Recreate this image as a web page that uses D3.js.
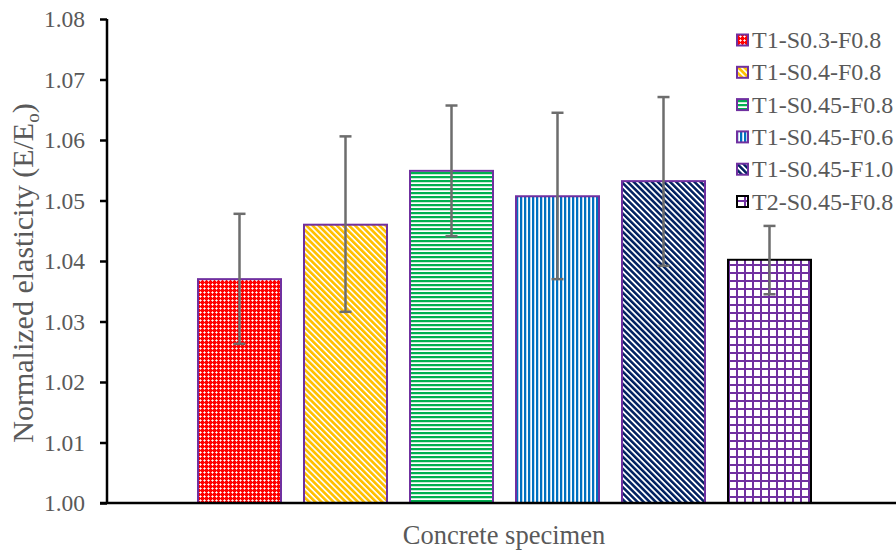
<!DOCTYPE html>
<html><head><meta charset="utf-8">
<script src="https://cdn.jsdelivr.net/npm/d3@7"></script>
<style>body{margin:0;background:#fff}svg{display:block}text{font-family:"Liberation Serif","Times New Roman",serif}</style>
</head><body><svg id="c" width="896" height="552"></svg>
<script>
const series = ["T1-S0.3-F0.8","T1-S0.4-F0.8","T1-S0.45-F0.8","T1-S0.45-F0.6","T1-S0.45-F1.0","T2-S0.45-F0.8"];
const values = [1.0370, 1.0460, 1.0549, 1.0507, 1.0532, 1.0402];
const errHigh = [1.0478, 1.0606, 1.0657, 1.0645, 1.0671, 1.0458];
const errLow  = [1.0263, 1.0316, 1.0441, 1.0370, 1.0392, 1.0345];
const yTicks = [1.00,1.01,1.02,1.03,1.04,1.05,1.06,1.07,1.08];
const patternIds = ["pRed","pYel","pGrn","pBlu","pNav","pGrid"];
const borders = ["#7030a0","#7030a0","#7030a0","#7030a0","#7030a0","#000000"];

const svg = d3.select("#c");
const defs = svg.append("defs");
function pat(id, w, h, transform){
  const p = defs.append("pattern").attr("id",id).attr("patternUnits","userSpaceOnUse").attr("width",w).attr("height",h);
  if(transform) p.attr("patternTransform",transform);
  p.append("rect").attr("width",w).attr("height",h).attr("fill","#fff");
  return p;
}
// red with white crosses
let p = pat("pRed",4,4);
p.select("rect").attr("fill","#ff0000");
p.append("rect").attr("x",0).attr("y",0).attr("width",1).attr("height",1).attr("fill","#ffffff");
p.append("rect").attr("x",1).attr("y",0).attr("width",1).attr("height",1).attr("fill","#ffb0b0");
p.append("rect").attr("x",3).attr("y",0).attr("width",1).attr("height",1).attr("fill","#ffb0b0");
p.append("rect").attr("x",0).attr("y",1).attr("width",1).attr("height",1).attr("fill","#ffb0b0");
p.append("rect").attr("x",0).attr("y",3).attr("width",1).attr("height",1).attr("fill","#ffb0b0");
// yellow diagonal
p = pat("pYel",4.3,10,"rotate(-45)");
p.append("rect").attr("width",2.7).attr("height",10).attr("fill","#ffc000");
// green horizontal
p = pat("pGrn",10,4);
p.append("rect").attr("y",0).attr("width",10).attr("height",2).attr("fill","#00b050");
p.append("rect").attr("y",2).attr("width",10).attr("height",0.6).attr("fill","#9fdcb8");
// blue vertical
p = pat("pBlu",4,10);
p.append("rect").attr("x",0).attr("width",2).attr("height",10).attr("fill","#0070c0");
p.append("rect").attr("x",2).attr("width",0.6).attr("height",10).attr("fill","#8ec0e6");
// navy diagonal
p = pat("pNav",4.3,10,"rotate(-45)");
p.append("rect").attr("width",2.5).attr("height",10).attr("fill","#002060");
// purple grid
p = pat("pGrid",8,8);
p.append("rect").attr("x",0).attr("y",0).attr("width",8).attr("height",2).attr("fill","#7030a0");
p.append("rect").attr("x",0).attr("y",0).attr("width",2).attr("height",8).attr("fill","#7030a0");

const y = d3.scaleLinear().domain([1.00,1.08]).range([503,19]);
const x = d3.scaleBand().domain(series).range([186.5,822.5]).paddingInner(0.217).paddingOuter(0.1085);

// bars
svg.selectAll("rect.bar").data(series).enter().append("rect").attr("class","bar")
  .attr("x",d=>x(d)).attr("width",x.bandwidth())
  .attr("y",(d,i)=>y(values[i])).attr("height",(d,i)=>y(1.0)-y(values[i]))
  .attr("fill",(d,i)=>`url(#${patternIds[i]})`)
  .attr("stroke",(d,i)=>borders[i]).attr("stroke-width",2);

// error bars
const eg = svg.append("g").attr("stroke","#6d6d6d").attr("stroke-width",2.5).attr("fill","none");
series.forEach((s,i)=>{
  const cx = x(s)+x.bandwidth()/2;
  eg.append("line").attr("x1",cx).attr("x2",cx).attr("y1",y(errLow[i])).attr("y2",y(errHigh[i]));
  eg.append("line").attr("x1",cx-6).attr("x2",cx+6).attr("y1",y(errLow[i])).attr("y2",y(errLow[i]));
  eg.append("line").attr("x1",cx-6).attr("x2",cx+6).attr("y1",y(errHigh[i])).attr("y2",y(errHigh[i]));
});

// y axis
const ya = svg.append("g").attr("transform","translate(107,0)")
  .call(d3.axisLeft(y).tickValues(yTicks).tickFormat(d3.format(".2f")).tickSize(7).tickPadding(15));
ya.attr("font-family",null);
ya.select(".domain").attr("stroke","#000").attr("stroke-width",2.5).attr("d","M0,503V19");
ya.selectAll(".tick line").attr("stroke","#000").attr("stroke-width",2.5);
ya.selectAll(".tick text").attr("fill","#595959").attr("font-size",23.5);

// x axis line
svg.append("line").attr("x1",100).attr("x2",896).attr("y1",503).attr("y2",503).attr("stroke","#000").attr("stroke-width",2.5);

// axis titles
svg.append("text").attr("x",504).attr("y",544).attr("text-anchor","middle").attr("fill","#595959").attr("font-size",26.5).text("Concrete specimen");
const yt = svg.append("text").attr("transform","translate(33,273) rotate(-90)").attr("text-anchor","middle").attr("fill","#595959").attr("font-size",30);
yt.append("tspan").text("Normalized elasticity (E/E");
yt.append("tspan").attr("font-size",19).attr("dy",6).text("o");
yt.append("tspan").attr("dy",-6).text(")");

// legend
const lg = svg.append("g");
series.forEach((s,i)=>{
  const cy = 40 + i*32.3;
  lg.append("rect").attr("x",737).attr("y",cy-5.5).attr("width",11).attr("height",11)
    .attr("fill",`url(#${patternIds[i]})`).attr("stroke",borders[i]).attr("stroke-width",2);
  lg.append("text").attr("x",752).attr("y",cy+8).attr("fill","#595959").attr("font-size",24).text(s);
});
</script></body></html>
